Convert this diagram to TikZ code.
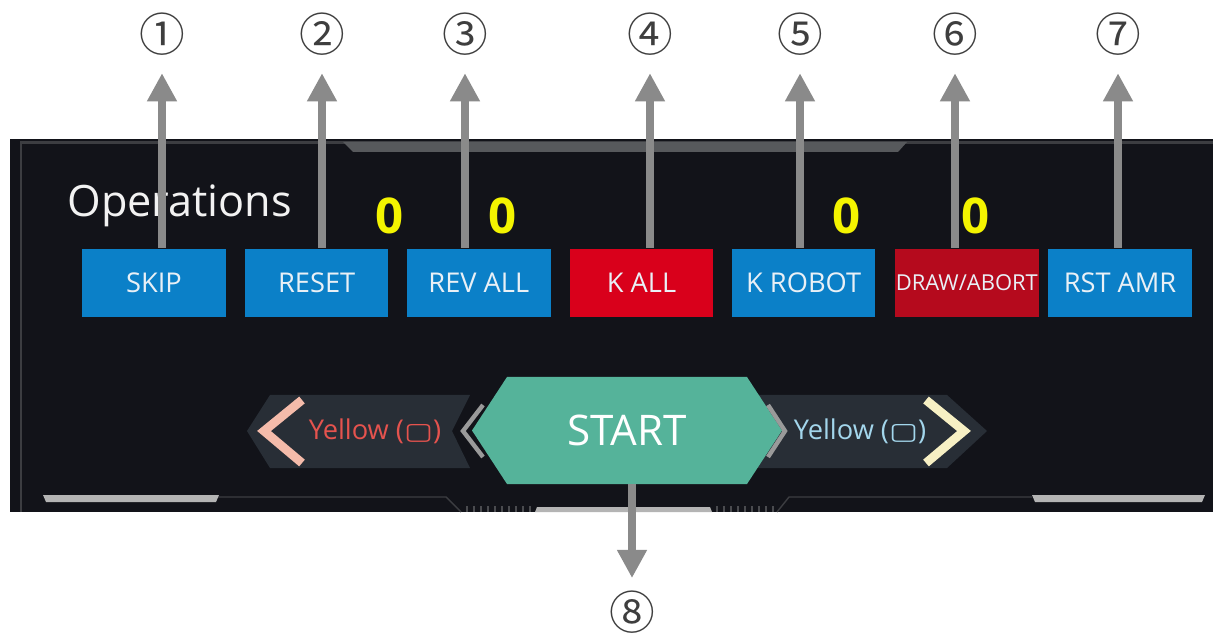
\documentclass[tikz,border=0pt]{standalone}
\usepackage{fontspec}
\setmainfont{Open Sans}
\newfontfamily\dejavu{DejaVu Sans}
\newfontfamily\cjk{Noto Sans CJK SC}
\usetikzlibrary{arrows.meta}
\usetikzlibrary{positioning}

\definecolor{panelbg}{HTML}{121319}
\definecolor{frameline}{HTML}{3C3D41}
\definecolor{tabgrey}{HTML}{57595C}
\definecolor{barlight}{HTML}{B4B4B4}
\definecolor{tickgrey}{HTML}{4A4B4F}
\definecolor{optext}{HTML}{F2F2F2}
\definecolor{btnblue}{HTML}{0B80C8}
\definecolor{btnred}{HTML}{D9001B}
\definecolor{btndark}{HTML}{B50A1D}
\definecolor{btntext}{HTML}{E9F0F6}
\definecolor{cntyellow}{HTML}{F4F400}
\definecolor{startgreen}{HTML}{55B39A}
\definecolor{bandbg}{HTML}{282E36}
\definecolor{chevpink}{HTML}{F4BBAA}
\definecolor{chevcream}{HTML}{F7F0C4}
\definecolor{chevgrey}{HTML}{9A9A9A}
\definecolor{yellowred}{HTML}{E5534E}
\definecolor{yellowblue}{HTML}{A3D6EC}
\definecolor{arrgrey}{HTML}{8A8A8A}
\definecolor{numgrey}{HTML}{3E3E3E}

\newcommand{\padsquare}{{\dejavu\bfseries\fontsize{14}{16}\selectfont\scalebox{1.25}[0.95]{▢}}}

\tikzset{
	btn/.style={minimum width=2.87cm, minimum height=1.38cm, inner sep=0pt, text=btntext, font=\fontsize{15.5}{18}\selectfont},
	counter/.style={text=cntyellow, font=\bfseries\fontsize{28}{32}\selectfont, inner sep=0pt, anchor=base},
	marker/.style={text=numgrey, font=\cjk\fontsize{26}{30}\selectfont, inner sep=0pt},
	sidetext/.style={font=\fontsize{15.5}{18}\selectfont, inner sep=0pt},
	arr/.style={draw=arrgrey, line width=5pt, -{Triangle[width=16pt,length=16pt]}},
	chev/.style={line width=2.5pt, line cap=butt, line join=miter}
}

\begin{document}
\begin{tikzpicture}[x=0.02cm, y=-0.02cm]
		\useasboundingbox (0,0) rectangle (1213,634);
		\fill[white] (0,0) rectangle (1213,634);

		\fill[panelbg] (10,139) rectangle (1213,512);
		\draw[frameline, line width=1.2pt] (21,512) -- (21,142.5) -- (1213,142.5);
		\fill[tabgrey] (343,142) -- (907,142) -- (898,152) -- (353,152) -- cycle;

		\draw[frameline, line width=0.8pt] (218,497) -- (446,497) -- (461,512);
		\draw[frameline, line width=0.8pt] (777,512) -- (789,497) -- (1032,497);
		\fill[barlight] (43,495) -- (219,495) -- (216,502) -- (46,502) -- cycle;
		\fill[barlight] (1032,495) -- (1205,495) -- (1202,502) -- (1035,502) -- cycle;
		\fill[barlight] (537,507) -- (710,507) -- (712,512) -- (535,512) -- cycle;
		\draw[tickgrey, line width=3pt, dash pattern=on 1pt off 3pt] (466,509) -- (534,509);
		\draw[tickgrey, line width=3pt, dash pattern=on 1pt off 3pt] (716,509) -- (774,509);

		\node[anchor=base west, text=optext, font=\fontsize{24.6}{28}\selectfont, inner sep=0pt] (ops) at (67,217) {Operations};

		\node[btn, fill=btnblue] (skip) at (154,283) {SKIP};
		\node[btn, fill=btnblue, right=0.37cm of skip] (reset) {RESET};
		\node[btn, fill=btnblue, right=0.36cm of reset] (revall) {REV ALL};
		\node[btn, fill=btnred, right=0.37cm of revall] (kall) {K ALL};
		\node[btn, fill=btnblue, right=0.36cm of kall] (krobot) {K ROBOT};
		\node[btn, fill=btndark, right=0.38cm of krobot, font=\fontsize{12.5}{15}\selectfont] (drawabort) {DRAW/ABORT};
		\node[btn, fill=btnblue, right=0.18cm of drawabort] (rstamr) {RST AMR};

		\node[counter] (c1) at (390,234) {0};
		\node[counter] (c2) at (503,234) {0};
		\node[counter] (c3) at (847,234) {0};
		\node[counter] (c4) at (976,234) {0};

		\fill[bandbg] (247,431) -- (270,395) -- (470,395) -- (452,431) -- (470,468) -- (270,468) -- cycle;
		\fill[bandbg] (757,395) -- (947,395) -- (987,431) -- (947,468) -- (757,468) -- cycle;
		\draw[chev, draw=chevpink, line width=5pt] (302,400) -- (264,431) -- (302,463);
		\draw[chev, draw=chevgrey] (483,405) -- (463,431) -- (483,457);
		\draw[chev, draw=chevcream, line width=5pt] (926,400) -- (964,431) -- (926,463);

		\fill[startgreen] (472,430.5) -- (507,377) -- (747,377) -- (782,430.5) -- (747,484) -- (507,484) -- cycle;
		\draw[chev, draw=chevgrey] (768,405) -- (785,431) -- (768,457);
		\node[text=white, font=\fontsize{24}{28}\selectfont, minimum width=6.2cm, minimum height=2.14cm, inner sep=0pt] (start) at (627,430.5) {START};

		\node[sidetext, text=yellowred] (leftside) at (375,431) {Yellow (\padsquare)};
		\node[sidetext, text=yellowblue] (rightside) at (860,431) {Yellow (\padsquare)};

		\node[marker] (n1) at (162,34) {①};
		\node[marker] (n2) at (322,34) {②};
		\node[marker] (n3) at (465,34) {③};
		\node[marker] (n4) at (650,34) {④};
		\node[marker] (n5) at (800,34) {⑤};
		\node[marker] (n6) at (955,34) {⑥};
		\node[marker] (n7) at (1118,34) {⑦};
		\node[marker] (n8) at (632,612) {⑧};

		\draw[arr, shorten >=10pt] (skip.north -| n1) -- (n1.south);
		\draw[arr, shorten >=10pt] (reset.north -| n2) -- (n2.south);
		\draw[arr, shorten >=10pt] (revall.north -| n3) -- (n3.south);
		\draw[arr, shorten >=10pt] (kall.north -| n4) -- (n4.south);
		\draw[arr, shorten >=10pt] (krobot.north -| n5) -- (n5.south);
		\draw[arr, shorten >=10pt] (drawabort.north -| n6) -- (n6.south);
		\draw[arr, shorten >=10pt] (rstamr.north -| n7) -- (n7.south);
		\draw[arr, shorten >=7pt] (start.south -| n8) -- (n8.north);
	\end{tikzpicture}
\end{document}
